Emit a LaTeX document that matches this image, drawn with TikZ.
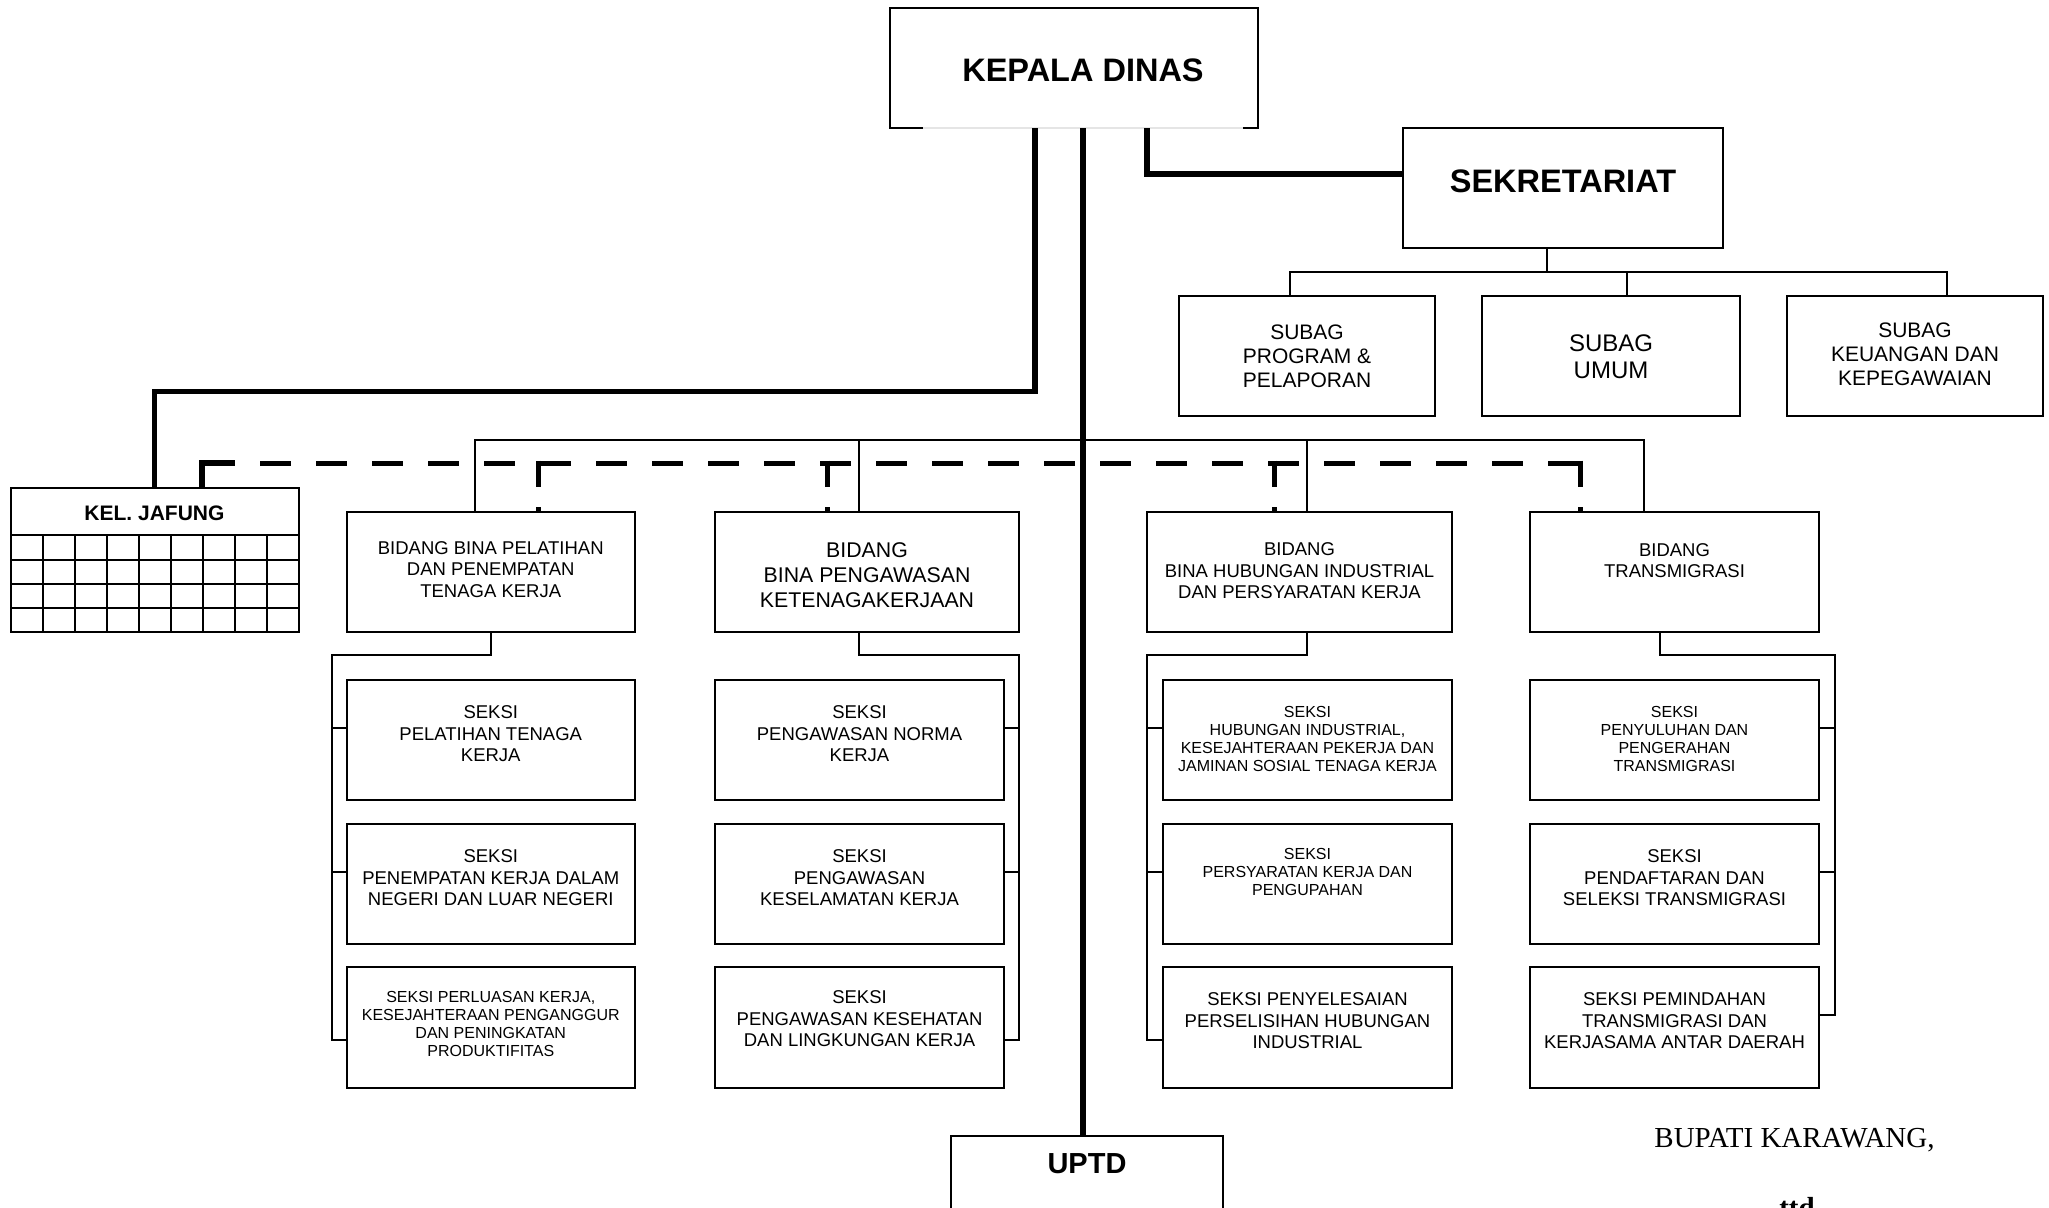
\documentclass[tikz,border=0pt]{standalone}
\usepackage{fontspec}
\setmainfont{Liberation Sans}
\newfontfamily\serifface{Liberation Serif}
\usetikzlibrary{calc}

\begin{document}
\begin{tikzpicture}[
  x=1pt, y=-1pt,
  thickline/.style={line width=5.5pt},
  treeline/.style={line width=2pt},
  gridline/.style={line width=1.8pt},
  dashline/.style={line width=5pt, dash pattern=on 31pt off 25pt},
  dropline/.style={line width=5pt, dash pattern=on 26.5pt off 20pt},
  orgbox/.style={draw, line width=2pt, inner sep=0pt, outer sep=0pt},
  orgtext/.style={align=center, inner sep=0pt, font=\fontsize{18.5}{21.6}\selectfont},
  smalltext/.style={font=\fontsize{16}{18}\selectfont},
  midtext/.style={font=\fontsize{21.3}{24.8}\selectfont},
  subtext/.style={font=\fontsize{21}{24}\selectfont},
  umumtext/.style={font=\fontsize{24}{27.4}\selectfont},
  headtext/.style={font=\bfseries\fontsize{32.5}{39}\selectfont}
]

\useasboundingbox (0,0) rectangle (2049,1207);
\fill[white] (0,0) rectangle (2049,1207);
\clip (0,0) rectangle (2049,1207);

% --- Box helper: name, left, top, right, bottom, text y, text ---
\newcommand{\OrgBox}[8][]{%
  \node[orgbox, minimum width={(#5-#3)*1pt}, minimum height={(#6-#4)*1pt}]
    (#2) at ({(#3+#5)/2},{(#4+#6)/2}) {};
  \node[orgtext, #1] (#2-txt) at (#2.center |- 0,#7) {#8};
}

% --- Kepala dinas (bottom edge almost hidden) ---
\node[orgbox, draw=none, minimum width=368pt, minimum height=120pt] (kepala) at (1074,68) {};
\node[headtext, inner sep=0pt] (kepala-txt) at (1083,70) {KEPALA DINAS};
\draw[line width=2pt] ([xshift=33pt]kepala.south west) -| (kepala.north west)
  -| (kepala.south east) -- ++(-15,0);
\draw[black!10, line width=1.5pt] ([xshift=33pt]kepala.south west) -- ([xshift=-15pt]kepala.south east);

% --- Sekretariat and subag ---
\OrgBox[headtext]{sekret}{1403}{128}{1723}{248}{181}{SEKRETARIAT}
\OrgBox[subtext]{subprog}{1179}{296}{1435}{416}{356}{SUBAG\\PROGRAM \&\\PELAPORAN}
\OrgBox[umumtext]{subumum}{1482}{296}{1740}{416}{357}{SUBAG\\UMUM}
\OrgBox[subtext]{subkeu}{1787}{296}{2043}{416}{354}{SUBAG\\KEUANGAN DAN\\KEPEGAWAIAN}

% --- Kel. jafung with its grid ---
\node[orgbox, minimum width=288.6pt, minimum height=144pt] (jafung) at (155,560) {};
\node[font=\bfseries\fontsize{21}{25}\selectfont, inner sep=0pt] (jafung-txt) at (154.5,513.3) {KEL. JAFUNG};
\foreach \yy in {535,560,584.3,608.3}
  \draw[gridline] (jafung.west |- 0,\yy) -- (jafung.east |- 0,\yy);
\foreach \i in {1,...,8}
  \draw[gridline] ({10.7+\i*32.07},535) -- ({10.7+\i*32.07},632);

% --- Bidang ---
\OrgBox{bpel}{346.5}{512}{635}{632}{569.5}{BIDANG BINA PELATIHAN\\DAN PENEMPATAN\\TENAGA KERJA}
\OrgBox[midtext]{bwas}{715}{512}{1019}{632}{575}{BIDANG\\BINA PENGAWASAN\\KETENAGAKERJAAN}
\OrgBox{bhub}{1147}{512}{1452}{632}{571}{BIDANG\\BINA HUBUNGAN INDUSTRIAL\\DAN PERSYARATAN KERJA}
\OrgBox{btrans}{1530}{512}{1819}{632}{560.5}{BIDANG\\TRANSMIGRASI}

% --- Seksi, column 1 ---
\OrgBox{pel1}{346.5}{680}{635}{800}{734}{SEKSI\\PELATIHAN TENAGA\\KERJA}
\OrgBox{pel2}{346.5}{823.5}{635}{944}{878}{SEKSI\\PENEMPATAN KERJA DALAM\\NEGERI DAN LUAR NEGERI}
\OrgBox[smalltext]{pel3}{346.5}{967}{635}{1087.5}{1024}{SEKSI PERLUASAN KERJA,\\KESEJAHTERAAN PENGANGGUR\\DAN PENINGKATAN\\PRODUKTIFITAS}

% --- Seksi, column 2 ---
\OrgBox{was1}{715}{680}{1004}{800}{734}{SEKSI\\PENGAWASAN NORMA\\KERJA}
\OrgBox{was2}{715}{823.5}{1004}{944}{878}{SEKSI\\PENGAWASAN\\KESELAMATAN KERJA}
\OrgBox{was3}{715}{967}{1004}{1087.5}{1019}{SEKSI\\PENGAWASAN KESEHATAN\\DAN LINGKUNGAN KERJA}

% --- Seksi, column 3 ---
\OrgBox[smalltext]{hub1}{1163}{680}{1452}{800}{739}{SEKSI\\HUBUNGAN INDUSTRIAL,\\KESEJAHTERAAN PEKERJA DAN\\JAMINAN SOSIAL TENAGA KERJA}
\OrgBox[smalltext]{hub2}{1163}{823.5}{1452}{944}{871.6}{SEKSI\\PERSYARATAN KERJA DAN\\PENGUPAHAN}
\OrgBox{hub3}{1163}{967}{1452}{1087.5}{1021}{SEKSI PENYELESAIAN\\PERSELISIHAN HUBUNGAN\\INDUSTRIAL}

% --- Seksi, column 4 ---
\OrgBox[smalltext]{trans1}{1530}{680}{1819}{800}{739}{SEKSI\\PENYULUHAN DAN\\PENGERAHAN\\TRANSMIGRASI}
\OrgBox{trans2}{1530}{823.5}{1819}{944}{878}{SEKSI\\PENDAFTARAN DAN\\SELEKSI TRANSMIGRASI}
\OrgBox{trans3}{1530}{967}{1819}{1087.5}{1021}{SEKSI PEMINDAHAN\\TRANSMIGRASI DAN\\KERJASAMA ANTAR DAERAH}

% --- UPTD and signature ---
\node[orgbox, minimum width=272pt, minimum height=140pt] (uptd) at (1087,1206) {};
\node[font=\bfseries\fontsize{29}{35}\selectfont, inner sep=0pt] (uptd-txt) at (1087,1164) {UPTD};
\node[font=\serifface\fontsize{29}{35}\selectfont, anchor=base, inner sep=0pt] (bupati) at (1794.5,1147.3) {BUPATI KARAWANG,};
\node[font=\serifface\bfseries\fontsize{29}{35}\selectfont, anchor=base, inner sep=0pt] (ttd) at (1797,1217) {ttd};

% --- Thick lines from kepala ---
\draw[thickline] (kepala.south -| 1035,0) |- (154.5,391.7) -- (jafung.north -| 154.5,0);
\draw[thickline] (kepala.south -| 1147,0) |- (sekret.west |- 0,174);
\draw[thickline] (kepala.south -| 1083,0) -- (uptd.north -| 1083,0);

% --- Sekretariat tree ---
\draw[treeline] (sekret.south -| 1547,0) -- (1547,272);
\draw[treeline] (subprog.north -| 1290,0) |- (1947,272) -- (subkeu.north -| 1947,0);
\draw[treeline] (1627,272) -- (subumum.north -| 1627,0);

% --- Bidang bus ---
\draw[treeline] (bpel.north -| 475,0) |- (1643.6,440) -- (btrans.north -| 1643.6,0);
\draw[treeline] (859,440) -- (bwas.north -| 859,0);
\draw[treeline] (1307,440) -- (bhub.north -| 1307,0);

% --- Coordination line (dashed) ---
\draw[thickline] (jafung.north -| 202,0) |- (235,463);
\draw[dashline] (260,463) -- (1580,463);
\foreach \xx/\nm in {538.6/bpel, 827.5/bwas, 1274/bhub, 1580/btrans}
  \draw[dropline] (\xx,460.5) -- (\nm.north -| \xx,0);

% --- Seksi trees ---
\draw[treeline] (bpel.south) |- (331.7,655) |- (pel3.west |- 0,1039.5);
\draw[treeline] (bwas.south -| 859,0) |- (1019,655) |- (was3.east |- 0,1039.5);
\draw[treeline] (bhub.south -| 1307,0) |- (1147,655) |- (hub3.west |- 0,1039.5);
\draw[treeline] (btrans.south -| 1660,0) |- (1835,655) |- (trans3.east |- 0,1014.8);
\foreach \r/\yy in {1/728.3, 2/872} {
  \draw[treeline] (331.7,\yy) -- (pel\r.west |- 0,\yy);
  \draw[treeline] (1019,\yy) -- (was\r.east |- 0,\yy);
  \draw[treeline] (1147,\yy) -- (hub\r.west |- 0,\yy);
  \draw[treeline] (1835,\yy) -- (trans\r.east |- 0,\yy);
}

\end{tikzpicture}
\end{document}
